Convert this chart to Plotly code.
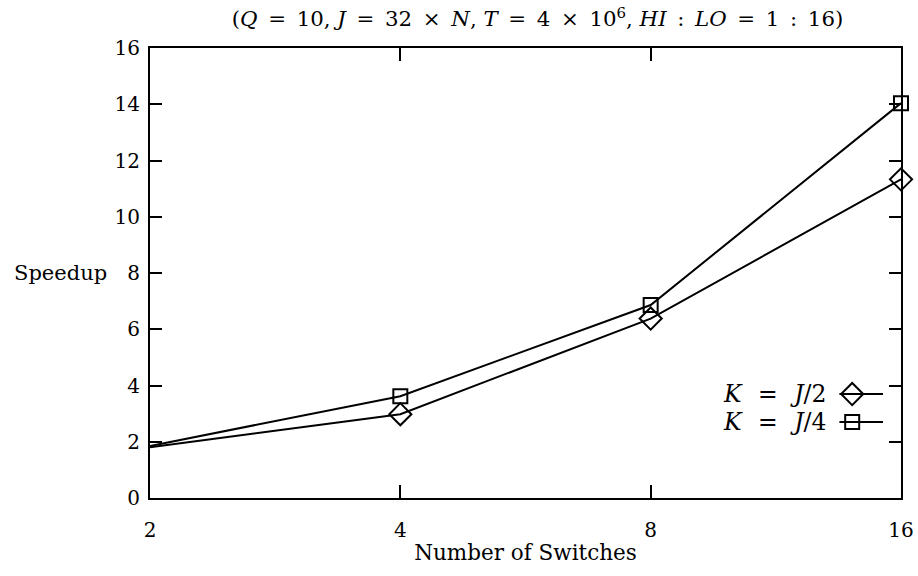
import plotly.graph_objects as go

# Speedup measurements vs. number of switches
switches = [2, 4, 8, 16]
speedup_half = [1.80, 2.98, 6.38, 11.33]     # K = J/2
speedup_quarter = [1.85, 3.62, 6.86, 14.04]  # K = J/4

y_ticks = [0, 2, 4, 6, 8, 10, 12, 14, 16]

FONT = "DejaVu Serif"
BLACK = "#000000"
SP = "\u2002"            # wide math-style spacing around operators
KSP = "\u2002\u2009"     # a little wider for the key labels

fig = go.Figure()

fig.add_trace(go.Scatter(
    x=switches, y=speedup_half, mode="lines+markers",
    line=dict(color=BLACK, width=2),
    marker=dict(symbol="diamond-open", size=17, color=BLACK, line=dict(width=2)),
    showlegend=False, cliponaxis=False,
))
fig.add_trace(go.Scatter(
    x=switches, y=speedup_quarter, mode="lines+markers",
    line=dict(color=BLACK, width=2),
    marker=dict(symbol="square-open", size=14, color=BLACK, line=dict(width=2)),
    showlegend=False, cliponaxis=False,
))

# Key drawn on an overlay axis in unit coordinates: label, then line with marker
key_rows = [
    (f"<i>K</i>{KSP}={KSP}<i>J</i>/2", "diamond-open", 17, 0.231),
    (f"<i>K</i>{KSP}={KSP}<i>J</i>/4", "square-open", 14, 0.169),
]
for label, sym, size, ky in key_rows:
    fig.add_trace(go.Scatter(
        x=[0.918, 0.976], y=[ky, ky], mode="lines",
        line=dict(color=BLACK, width=2),
        xaxis="x2", yaxis="y2", showlegend=False, hoverinfo="skip",
    ))
    fig.add_trace(go.Scatter(
        x=[0.935], y=[ky], mode="markers",
        marker=dict(symbol=sym, size=size, color=BLACK, line=dict(width=2)),
        xaxis="x2", yaxis="y2", showlegend=False, hoverinfo="skip",
    ))
    fig.add_annotation(
        x=0.903, y=ky, xref="x2", yref="y2", text=label, showarrow=False,
        xanchor="right", yanchor="middle",
        font=dict(family=FONT, size=23.5, color=BLACK),
    )

fig.add_annotation(
    x=-0.054, y=8, xref="paper", yref="y", text="Speedup", showarrow=False,
    xanchor="right", yanchor="middle",
    font=dict(family=FONT, size=21, color=BLACK),
)

fig.update_layout(
    width=918, height=576,
    margin=dict(l=150, r=17, t=48, b=78, autoexpand=False),
    paper_bgcolor="white", plot_bgcolor="white",
    font=dict(family=FONT, color=BLACK, size=19),
    title=dict(
        text=f"(<i>Q</i>{SP}={SP}10, <i>J</i>{SP}={SP}32{SP}×{SP}<i>N</i>, "
             f"<i>T</i>{SP}={SP}4{SP}×{SP}10<sup>6</sup>, "
             f"<i>HI</i>{SP}:{SP}<i>LO</i>{SP}={SP}1{SP}:{SP}16)",
        x=0.516, xref="paper", xanchor="center",
        y=1 - 19 / 576, yref="container", yanchor="middle",
        font=dict(family=FONT, size=21.3, color=BLACK),
    ),
    xaxis=dict(
        type="log", range=[0.30103, 1.20412],
        tickvals=switches, ticktext=[str(s) for s in switches],
        ticks="inside", ticklen=13, tickwidth=1.5, tickcolor=BLACK,
        showline=True, linecolor=BLACK, linewidth=2, mirror="ticks",
        showgrid=False, zeroline=False, ticklabelstandoff=13,
        tickfont=dict(family=FONT, size=20, color=BLACK),
        title=dict(text="Number of Switches", standoff=4,
                   font=dict(family=FONT, size=21.5, color=BLACK)),
    ),
    yaxis=dict(
        range=[0, 16], tickvals=y_ticks,
        ticks="inside", ticklen=12, tickwidth=1.5, tickcolor=BLACK,
        showline=True, linecolor=BLACK, linewidth=2, mirror="ticks",
        showgrid=False, zeroline=False, ticklabelstandoff=4,
        tickfont=dict(family=FONT, size=20, color=BLACK),
    ),
    xaxis2=dict(overlaying="x", range=[0, 1], visible=False, fixedrange=True),
    yaxis2=dict(overlaying="y", range=[0, 1], visible=False, fixedrange=True),
)

fig.write_html("out.html")
